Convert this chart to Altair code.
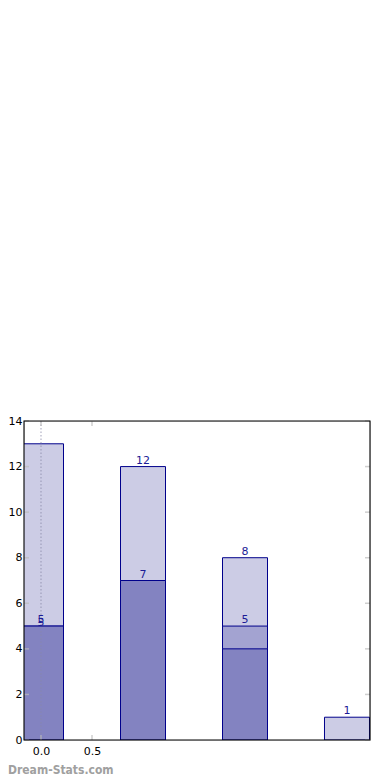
import altair as alt
import pandas as pd

positions = [0, 1, 2, 3]
light_vals = [13, 12, 8, 1]
mid_vals = [5, 7, 5, 0]
dark_vals = [5, 7, 4, 0]

label_pos = [0, 0, 1, 1, 2, 2, 3]
label_vals = [5, 5, 12, 7, 8, 5, 1]
label_shift = [0, 1, 0, 0, 0, 0, 0]

y_ticks = [0, 2, 4, 6, 8, 10, 12, 14]
x_ticks = [0.0, 0.5]

W, H = 346, 319
XDOM = [-0.1667, 3.2255]

light_c = "#ccccE5"
mid_c = "#a3a3d1"
dark_c = "#8383c1"
edge_c = "#00008b"
lab_c = "#1c1c96"

bars = pd.DataFrame({"x": positions, "light": light_vals, "mid": mid_vals, "dark": dark_vals})
labels = pd.DataFrame({"x": label_pos, "v": label_vals, "s": label_shift})
labels["t"] = labels["v"].astype(str)

xs = alt.Scale(domain=XDOM, nice=False, zero=False, padding=0)
ys = alt.Scale(domain=[0, 14], nice=False, padding=0)

xaxis = alt.Axis(values=x_ticks, format=".1f", grid=False, domain=False, ticks=False,
                 labelPadding=5, labelFontSize=11, labelFont="DejaVu Sans", labelColor="#000000", title=None)
yaxis = alt.Axis(values=y_ticks, format="d", grid=False, domain=False, ticks=False,
                 labelPadding=2, labelFontSize=11, labelFont="DejaVu Sans", labelColor="#000000", title=None)

X = lambda f: alt.X(f, scale=xs, axis=xaxis)
Y = lambda f: alt.Y(f, scale=ys, axis=yaxis)

base = alt.Chart(bars)

def bar_layer(field, color):
    return base.mark_bar(size=45, color=color, stroke=edge_c, strokeWidth=1, clip=True).encode(
        x=X("x:Q"), y=Y(f"{field}:Q"),
    ).transform_filter(f"datum.{field} > 0")

light = bar_layer("light", light_c)
mid = bar_layer("mid", mid_c)
dark = bar_layer("dark", dark_c)

vline = alt.Chart(pd.DataFrame({"x": [0.0]})).mark_rule(
    color="#8a8aa8", strokeDash=[1.5, 2], strokeWidth=1, opacity=0.8
).encode(x=X("x:Q"))

txt0 = alt.Chart(labels).transform_filter("datum.s == 0").mark_text(
    baseline="bottom", dy=-1, fontSize=11, font="DejaVu Sans", color=lab_c
).encode(x=X("x:Q"), y=Y("v:Q"), text="t:N")
txt1 = alt.Chart(labels).transform_filter("datum.s == 1").mark_text(
    baseline="bottom", dy=2, fontSize=11, font="DejaVu Sans", color=lab_c
).encode(x=X("x:Q"), y=Y("v:Q"), text="t:N")

ytk = pd.DataFrame({"v": y_ticks})
xtk = pd.DataFrame({"v": x_ticks})
tick_c = "#bbbbbb"
yt_left = alt.Chart(ytk).mark_tick(orient="horizontal", size=5, thickness=1.5, color=tick_c).encode(
    y=Y("v:Q"), x=alt.value(2.5))
yt_right = alt.Chart(ytk).mark_tick(orient="horizontal", size=5, thickness=1.5, color=tick_c).encode(
    y=Y("v:Q"), x=alt.value(W - 2.5))
xt_bot = alt.Chart(xtk).mark_tick(orient="vertical", size=5, thickness=1.5, color=tick_c).encode(
    x=X("v:Q"), y=alt.value(H - 2.5))
xt_top = alt.Chart(xtk).mark_tick(orient="vertical", size=5, thickness=1.5, color=tick_c).encode(
    x=X("v:Q"), y=alt.value(2.5))

frame = alt.Chart(pd.DataFrame({"a": [0]})).mark_rect(
    fill=None, fillOpacity=0, stroke="#000000", strokeWidth=1.1
).encode(x=alt.value(0), x2=alt.value(W), y=alt.value(0), y2=alt.value(H))

wm = alt.Chart(pd.DataFrame({"t": ["Dream-Stats.com"]})).mark_text(
    align="left", baseline="middle", fontSize=12, font="DejaVu Sans Condensed", fontWeight="bold", color="#a0a0a0"
).encode(text="t:N", x=alt.value(-16), y=alt.value(349))

chart = alt.layer(light, mid, dark, vline, txt0, txt1, yt_left, yt_right, xt_bot, xt_top, frame, wm).properties(
    width=W, height=H,
    autosize=alt.AutoSizeParams(type="none"),
    padding={"left": 16, "top": 413, "right": 12, "bottom": 40},
).configure_view(strokeWidth=0).configure(background="white")

chart.save("out.html", embed_options={"renderer": "svg", "actions": False})
